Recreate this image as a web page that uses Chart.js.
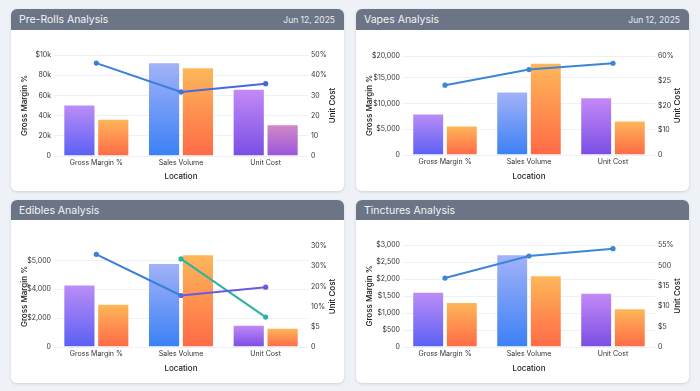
<!DOCTYPE html>
<html>
<head>
<meta charset="utf-8">
<script src="https://cdn.jsdelivr.net/npm/chart.js@4.4.1/dist/chart.umd.min.js"></script>
<style>
  html, body { margin: 0; padding: 0; }
  body { width: 700px; height: 391px; background: #eef1f6; position: relative; overflow: hidden; font-family: Inter, sans-serif; }
  .card { position: absolute; width: 333px; background: #fff; border-radius: 6px; overflow: hidden;
          box-shadow: 0 1px 3px rgba(40, 50, 70, 0.15); }
  .head { background: #6b7586; color: #f2f4f7; display: flex; align-items: center; justify-content: space-between; padding: 0 9px 0 8px; }
  .head .t { font-size: 10.5px; font-weight: 400; }
  .head .d { font-size: 8.5px; color: #e8ebf0; }
  .body { position: relative; width: 333px; }
</style>
</head>
<body>
<div class="card" style="left:11px; top:9px;">
  <div class="head" style="height:21px;"><span class="t">Pre-Rolls Analysis</span><span class="d">Jun 12, 2025</span></div>
  <div class="body" style="height:161px;"><canvas id="c1"></canvas></div>
</div>
<div class="card" style="left:356px; top:9px;">
  <div class="head" style="height:21px;"><span class="t">Vapes Analysis</span><span class="d">Jun 12, 2025</span></div>
  <div class="body" style="height:161px;"><canvas id="c2"></canvas></div>
</div>
<div class="card" style="left:11px; top:200px;">
  <div class="head" style="height:20px;"><span class="t">Edibles Analysis</span></div>
  <div class="body" style="height:163px;"><canvas id="c3"></canvas></div>
</div>
<div class="card" style="left:356px; top:200px;">
  <div class="head" style="height:20px;"><span class="t">Tinctures Analysis</span></div>
  <div class="body" style="height:163px;"><canvas id="c4"></canvas></div>
</div>

<script>
var categories = ['Gross Margin %', 'Sales Volume', 'Unit Cost'];

// Pre-Rolls
var preRollsBarsA = [51000, 92800, 66600];
var preRollsBarsB = [37000, 87800, 31400];
var preRollsLine = [46, 31.7, 35.8];
var preRollsLeftTicks = [0, 20000, 40000, 60000, 80000, 100000];
var preRollsLeftLabels = ['0', '20k', '40k', '60k', '80k', '$10k'];
var preRollsRightTicks = [0, 10, 20, 30, 40, 50];
var preRollsRightLabels = ['0', '10', '20', '30', '40%', '50%'];

// Vapes
var vapesBarsA = [8080, 12340, 11240];
var vapesBarsB = [5750, 17960, 6720];
var vapesLine = [42.3, 51.8, 55.6];
var vapesLeftTicks = [0, 5000, 10000, 15000, 19250];
var vapesLeftLabels = ['0', '$5,000', '$10,000', '$15,000', '$20,000'];
var vapesRightTicks = [0, 15, 30, 45, 60];
var vapesRightLabels = ['0', '$10', '$20', '$25', '60%'];

// Edibles
var ediblesBarsA = [4340, 5830, 1540];
var ediblesBarsB = [3000, 6430, 1330];
var ediblesLine = [45.9, 25.5, 29.6];
var ediblesLine2 = [null, 43.6, 14.8];
var ediblesLeftTicks = [0, 2000, 4000, 6000];
var ediblesLeftLabels = ['0', '$2,000', '$4,000', '$5,000'];
var ediblesRightTicks = [0, 10, 20, 30, 40, 50];
var ediblesRightLabels = ['0', '$5', '10%', '20%', '30%', '30%'];

// Tinctures
var tincturesBarsA = [1627, 2725, 1597];
var tincturesBarsB = [1324, 2108, 1137];
var tincturesLine = [16.9, 22.3, 24.1];
var tincturesLeftTicks = [0, 500, 1000, 1500, 2000, 2500, 3000];
var tincturesLeftLabels = ['0', '$500', '$1,000', '$1,500', '$2,000', '$2,500', '$3,000'];
var tincturesRightTicks = [0, 5, 10, 15, 20, 25];
var tincturesRightLabels = ['0', '$5', '$10', '$15', '500', '55%'];

// bar gradient colours (top, bottom)
var purpleA = ['#bd8df7', '#5a60f4'];
var blueSV = ['#a3b3f8', '#3b80f5'];
var purpleUC = ['#c48af6', '#7a4ee4'];
var orange = ['#fdb85a', '#ff6a46'];
var mauve = ['#d28bc4', '#9a55dc'];

var tickFont = { family: 'Inter', size: 7 };
var titleFont = { family: 'Inter', size: 8, weight: '500' };

function barFill(colors) {
  return function(ctx) {
    var c = colors[ctx.dataIndex];
    if (ctx.type !== 'data') return c[1];
    var chart = ctx.chart;
    var scale = chart.scales.y;
    var top = scale.getPixelForValue(ctx.raw);
    var base = scale.getPixelForValue(0);
    if (!isFinite(top) || !isFinite(base) || top === base) return c[1];
    var g = chart.ctx.createLinearGradient(0, top, 0, base);
    g.addColorStop(0, c[0]);
    g.addColorStop(1, c[1]);
    return g;
  };
}

var sideTitle = {
  id: 'sideTitle',
  afterDraw: function(chart, args, o) {
    var s = chart.scales.y1, a = chart.chartArea, c = chart.ctx;
    c.save();
    c.translate(s.right - o.offset, (a.top + a.bottom) / 2);
    c.rotate(-Math.PI / 2);
    c.font = '500 8px Inter';
    c.fillStyle = '#222';
    c.textAlign = 'center';
    c.textBaseline = 'middle';
    c.fillText(o.text, 0, 0);
    c.restore();
  }
};

function buildChart(id, p) {
  var datasets = [];
  p.lines.forEach(function(l) {
    datasets.push({
      type: 'line', data: l.data, yAxisID: 'y1', order: 0,
      borderColor: l.colors[0], borderWidth: 2,
      segment: { borderColor: function(s) { return l.colors[s.p0DataIndex]; } },
      pointBackgroundColor: l.points, pointBorderWidth: 0, pointRadius: 2.6,
      spanGaps: false
    });
  });
  datasets.push({ data: p.barsA, yAxisID: 'y', order: 1, backgroundColor: barFill(p.colorsA),
    borderColor: 'rgba(255,255,255,0.7)', borderWidth: 1, categoryPercentage: 0.8, barPercentage: 0.95 });
  datasets.push({ data: p.barsB, yAxisID: 'y', order: 1, backgroundColor: barFill(p.colorsB),
    borderColor: 'rgba(255,255,255,0.7)', borderWidth: 1, categoryPercentage: 0.8, barPercentage: 0.95 });

  new Chart(document.getElementById(id), {
    type: 'bar',
    data: { labels: categories, datasets: datasets },
    plugins: [sideTitle],
    options: {
      responsive: true,
      maintainAspectRatio: false,
      animation: false,
      layout: { padding: { top: p.top, left: 0, right: 0, bottom: 0 } },
      plugins: {
        legend: { display: false },
        tooltip: { enabled: false },
        sideTitle: { text: 'Unit Cost', offset: p.rightTitle }
      },
      scales: {
        x: {
          grid: { display: false, drawTicks: false },
          border: { display: false },
          ticks: { font: tickFont, color: '#333', padding: 3, maxRotation: 0 },
          title: { display: true, text: 'Location', font: titleFont, color: '#222', padding: { top: 0, bottom: 9.5 } },
          afterFit: function(s) { s.height = p.xHeight; }
        },
        y: {
          position: 'left',
          min: 0, max: p.leftMax,
          grid: { color: '#edf0f4', drawTicks: false },
          border: { display: false },
          afterBuildTicks: function(s) { s.ticks = p.leftTicks.map(function(v) { return { value: v }; }); },
          ticks: { font: tickFont, color: '#333', padding: 3,
                   callback: function(v, i) { return p.leftLabels[i]; } },
          title: { display: true, text: 'Gross Margin %', font: titleFont, color: '#222', padding: { top: 9, bottom: 0 } },
          afterFit: function(s) { s.width = p.yWidth; }
        },
        y1: {
          position: 'right',
          min: 0, max: p.rightMax,
          grid: { display: false, drawTicks: false },
          border: { display: false },
          afterBuildTicks: function(s) { s.ticks = p.rightTicks.map(function(v) { return { value: v }; }); },
          ticks: { font: tickFont, color: '#333', padding: 3,
                   callback: function(v, i) { return p.rightLabels[i]; } },
          afterFit: function(s) { s.width = p.y1Width; }
        }
      }
    }
  });
}

buildChart('c1', {
  barsA: preRollsBarsA, barsB: preRollsBarsB,
  colorsA: [purpleA, blueSV, purpleUC], colorsB: [orange, orange, mauve],
  lines: [{ data: preRollsLine, colors: ['#3b7fd9', '#4469e0'], points: ['#3b7fd9', '#3f74dd', '#4a62e2'] }],
  leftMax: 100000, leftTicks: preRollsLeftTicks, leftLabels: preRollsLeftLabels,
  rightMax: 50, rightTicks: preRollsRightTicks, rightLabels: preRollsRightLabels,
  top: 25, yWidth: 43, y1Width: 36, xHeight: 35, rightTitle: 11.5
});

buildChart('c2', {
  barsA: vapesBarsA, barsB: vapesBarsB,
  colorsA: [purpleA, blueSV, purpleUC], colorsB: [orange, orange, orange],
  lines: [{ data: vapesLine, colors: ['#3b86d6', '#3b86d6'], points: ['#3b86d6', '#3b86d6', '#3b86d6'] }],
  leftMax: 19250, leftTicks: vapesLeftTicks, leftLabels: vapesLeftLabels,
  rightMax: 60, rightTicks: vapesRightTicks, rightLabels: vapesRightLabels,
  top: 26, yWidth: 47, y1Width: 34, xHeight: 36, rightTitle: 11.7
});

buildChart('c3', {
  barsA: ediblesBarsA, barsB: ediblesBarsB,
  colorsA: [purpleA, blueSV, purpleUC], colorsB: [orange, orange, orange],
  lines: [
    { data: ediblesLine, colors: ['#3b7fd9', '#6a5ae2'], points: ['#3b7fd9', '#5a63e0', '#6a5ae2'] },
    { data: ediblesLine2, colors: ['#2bb3a3', '#2bb3a3'], points: ['#2bb3a3', '#2bb3a3', '#2bb3a3'] }
  ],
  leftMax: 7000, leftTicks: ediblesLeftTicks, leftLabels: ediblesLeftLabels,
  rightMax: 50, rightTicks: ediblesRightTicks, rightLabels: ediblesRightLabels,
  top: 26, yWidth: 43, y1Width: 36, xHeight: 36, rightTitle: 11.5
});

buildChart('c4', {
  barsA: tincturesBarsA, barsB: tincturesBarsB,
  colorsA: [purpleA, blueSV, purpleUC], colorsB: [orange, orange, orange],
  lines: [{ data: tincturesLine, colors: ['#3b86d6', '#3b86d6'], points: ['#3b86d6', '#3b86d6', '#3b86d6'] }],
  leftMax: 3000, leftTicks: tincturesLeftTicks, leftLabels: tincturesLeftLabels,
  rightMax: 25, rightTicks: tincturesRightTicks, rightLabels: tincturesRightLabels,
  top: 25, yWidth: 47, y1Width: 34, xHeight: 36, rightTitle: 11.7
});
</script>
</body>
</html>
